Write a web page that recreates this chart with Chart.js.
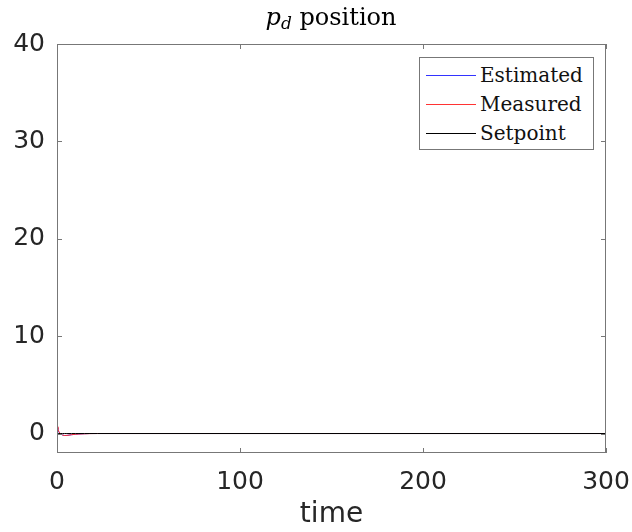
<!DOCTYPE html>
<html>
<head>
<meta charset="utf-8">
<script src="https://cdn.jsdelivr.net/npm/chart.js@4"></script>
<style>
  html, body { margin: 0; padding: 0; background: #fff; }
  #wrap { position: relative; width: 632px; height: 532px; }
  #title { position: absolute; left: 0; width: 662px; top: 3px; text-align: center;
    font-family: "DejaVu Serif", serif; font-size: 24px; color: #000; }
  #title sub { font-size: 17px; vertical-align: -4px; line-height: 0; }
  #legend { position: absolute; left: 419px; top: 57px; width: 175px; height: 93px;
    border: 1px solid #777; background: #fff; box-sizing: border-box; }
  .lrow { position: absolute; left: 0; height: 29px; width: 100%;
    font-family: "DejaVu Serif", serif; font-size: 20px; color: #111; }
  .lrow .sw { position: absolute; left: 6px; top: 15px; width: 50px; height: 1px; }
  .lrow .tx { position: absolute; left: 60px; top: 2px; line-height: 26px; }
</style>
</head>
<body>
<div id="wrap">
  <canvas id="c" width="632" height="532"></canvas>
  <div id="title"><i>p</i><sub><i>d</i></sub> position</div>
  <div id="legend"></div>
</div>
<script>
// sample times and series
const timeVals      = [0, 0.5, 1, 2, 3, 4, 5, 6, 8, 10, 12, 15, 18, 22, 300];
const estimatedVals = [0.6, 0.4, 0.15, -0.05, -0.15, -0.2, -0.2, -0.18, -0.12, -0.08, -0.05, -0.02, 0, 0, 0];
const measuredVals  = [0.7, 0.45, 0.2, -0.05, -0.15, -0.2, -0.2, -0.18, -0.12, -0.08, -0.05, -0.03, -0.01, 0, 0];
const setpointVals  = [0, 0, 0, 0, 0, 0, 0, 0, 0, 0, 0, 0, 0, 0, 0];

const seriesNames  = ["Estimated", "Measured", "Setpoint"];
const seriesColors = ["#3333ff", "#ff3333", "#000000"];

const xTicks = [0, 100, 200, 300];
const yTicks = [0, 10, 20, 30, 40];

const pts = vals => timeVals.map((t, i) => ({ x: t, y: vals[i] }));

// html legend (boxed, inside the axes like matlab)
document.getElementById("legend").innerHTML = seriesNames.map((n, i) =>
  `<div class="lrow" style="top:${2 + i * 29}px"><div class="sw" style="background:${seriesColors[i]}"></div><div class="tx">${n}</div></div>`
).join("");

// box around axes + inward ticks
const boxPlugin = {
  id: "box",
  afterDatasetsDraw(chart) {
    const { ctx, chartArea: a, scales } = chart;
    ctx.save();
    ctx.strokeStyle = "#777";
    ctx.lineWidth = 1;
    ctx.strokeRect(a.left + 0.5, a.top + 0.5, a.right - a.left - 1, a.bottom - a.top - 1);
    ctx.beginPath();
    const L = 5;
    for (const v of xTicks) {
      const x = Math.round(scales.x.getPixelForValue(v)) + 0.5;
      ctx.moveTo(x, a.top); ctx.lineTo(x, a.top + L);
      ctx.moveTo(x, a.bottom); ctx.lineTo(x, a.bottom - L);
    }
    for (const v of yTicks) {
      const y = Math.round(scales.y.getPixelForValue(v)) + 0.5;
      ctx.moveTo(a.left, y); ctx.lineTo(a.left + L, y);
      ctx.moveTo(a.right, y); ctx.lineTo(a.right - L, y);
    }
    ctx.stroke();
    ctx.restore();
  }
};

const tickFont = { family: "DejaVu Sans", size: 25 };

new Chart(document.getElementById("c"), {
  type: "line",
  data: {
    datasets: [
      { label: seriesNames[2], data: pts(setpointVals), borderColor: seriesColors[2], borderWidth: 1, pointRadius: 0, order: 0 },
      { label: seriesNames[1], data: pts(measuredVals), borderColor: seriesColors[1], borderWidth: 1, pointRadius: 0, order: 1 },
      { label: seriesNames[0], data: pts(estimatedVals), borderColor: seriesColors[0], borderWidth: 1, pointRadius: 0, order: 2 },
    ]
  },
  options: {
    responsive: false,
    animation: false,
    layout: { padding: { top: 44, right: 26, left: 0, bottom: 0 } },
    plugins: { legend: { display: false }, tooltip: { enabled: false } },
    scales: {
      x: {
        type: "linear", min: 0, max: 300,
        afterBuildTicks: s => { s.ticks = xTicks.map(v => ({ value: v })); },
        afterFit: s => { s.height = 79; s.paddingRight = 0; },
        grid: { display: false, drawTicks: false },
        border: { display: false },
        ticks: { font: tickFont, color: "#262626", padding: 14, maxRotation: 0 },
        title: { display: true, text: "time", font: { family: "DejaVu Sans", size: 28 }, color: "#262626", padding: { top: 3, bottom: 0 } }
      },
      y: {
        type: "linear", min: -2, max: 40,
        afterBuildTicks: s => { s.ticks = yTicks.map(v => ({ value: v })); },
        afterFit: s => { s.width = 57; },
        grid: { display: false, drawTicks: false },
        border: { display: false },
        ticks: { font: tickFont, color: "#262626", padding: 12 }
      }
    }
  },
  plugins: [boxPlugin]
});
</script>
</body>
</html>
